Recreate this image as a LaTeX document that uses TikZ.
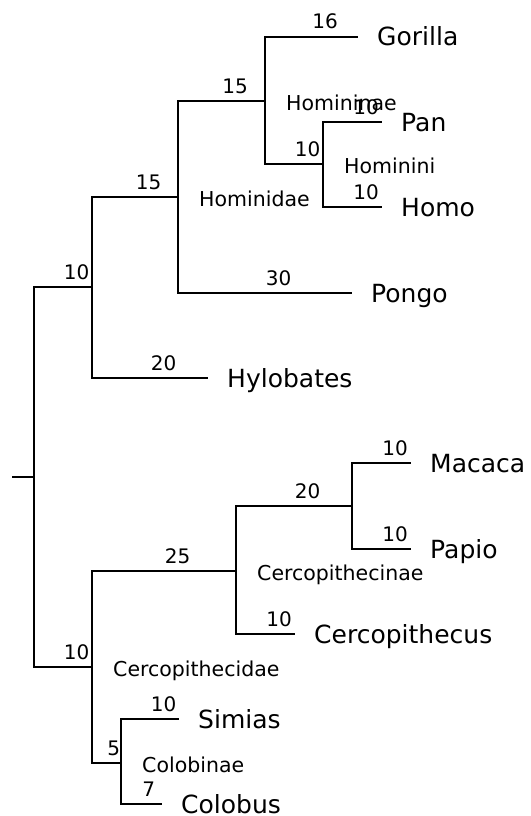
\documentclass[tikz,border=0pt]{standalone}
\usepackage{fontspec}
\setmainfont{DejaVu Sans}
\usepackage{xcolor}
\usepackage{tikz}
\definecolor{TreeInk}{HTML}{000000}

\begin{document}
\begin{tikzpicture}[
    x=1pt,y=-1pt,
    branch/.style={line width=1.7pt,color=TreeInk},
    leaf/.style={anchor=base west,inner sep=0pt,xshift=19pt,yshift=-9pt,
      text=TreeInk,font=\fontsize{25}{30}\selectfont},
    clade/.style={anchor=base west,inner sep=0pt,xshift=21pt,yshift=-9pt,
      text=TreeInk,font=\fontsize{20.5}{24}\selectfont},
    blen/.style={pos=0.75,anchor=base west,inner sep=0pt,yshift=8pt,
      text=TreeInk,font=\fontsize{20}{24}\selectfont}
  ]
    \useasboundingbox (0,0) rectangle (530,816);
    \coordinate (stub) at (12,477);
    \coordinate (root) at (34,477);
    \coordinate (hominoidea) at (92,287);
    \coordinate (hominidae) at (178,197);
    \coordinate (homininae) at (265,101);
    \coordinate (hominini) at (323,164);
    \coordinate (cercopithecidae) at (92,667);
    \coordinate (cercopithecinae) at (236,571);
    \coordinate (papionini) at (352,506);
    \coordinate (colobinae) at (121,763);
    \coordinate (gorilla) at (358,37);
    \coordinate (pan) at (382,122);
    \coordinate (homo) at (382,207);
    \coordinate (pongo) at (352,293);
    \coordinate (hylobates) at (208,378);
    \coordinate (macaca) at (411,463);
    \coordinate (papio) at (411,549);
    \coordinate (cercopithecus) at (295,634);
    \coordinate (simias) at (179,719);
    \coordinate (colobus) at (162,804);

    \draw[branch] (stub) -- (root);
    \draw[branch] (root) |- (hominoidea) node[blen] (lenHominoidea) {10};
    \draw[branch] (root) |- (cercopithecidae) node[blen] (lenCercopithecidae) {10};
    \draw[branch] (hominoidea) |- (hominidae) node[blen] (lenHominidae) {15};
    \draw[branch] (hominoidea) |- (hylobates) node[blen] (lenHylobates) {20};
    \draw[branch] (hominidae) |- (homininae) node[blen] (lenHomininae) {15};
    \draw[branch] (hominidae) |- (pongo) node[blen] (lenPongo) {30};
    \draw[branch] (homininae) |- (gorilla) node[blen] (lenGorilla) {16};
    \draw[branch] (homininae) |- (hominini) node[blen] (lenHominini) {10};
    \draw[branch] (hominini) |- (pan) node[blen] (lenPan) {10};
    \draw[branch] (hominini) |- (homo) node[blen] (lenHomo) {10};
    \draw[branch] (cercopithecidae) |- (cercopithecinae) node[blen] (lenCercopithecinae) {25};
    \draw[branch] (cercopithecidae) |- (colobinae) node[blen] (lenColobinae) {5};
    \draw[branch] (cercopithecinae) |- (papionini) node[blen] (lenPapionini) {20};
    \draw[branch] (cercopithecinae) |- (cercopithecus) node[blen] (lenCercopithecus) {10};
    \draw[branch] (papionini) |- (macaca) node[blen] (lenMacaca) {10};
    \draw[branch] (papionini) |- (papio) node[blen] (lenPapio) {10};
    \draw[branch] (colobinae) |- (simias) node[blen] (lenSimias) {10};
    \draw[branch] (colobinae) |- (colobus) node[blen] (lenColobus) {7};

    \node[clade] (hominidaeTxt) at (hominidae) {Hominidae};
    \node[clade] (homininaeTxt) at (homininae) {Homininae};
    \node[clade] (homininiTxt) at (hominini) {Hominini};
    \node[clade] (cercopithecidaeTxt) at (cercopithecidae) {Cercopithecidae};
    \node[clade] (cercopithecinaeTxt) at (cercopithecinae) {Cercopithecinae};
    \node[clade] (colobinaeTxt) at (colobinae) {Colobinae};

    \node[leaf] (gorillaTxt) at (gorilla) {Gorilla};
    \node[leaf] (panTxt) at (pan) {Pan};
    \node[leaf] (homoTxt) at (homo) {Homo};
    \node[leaf] (pongoTxt) at (pongo) {Pongo};
    \node[leaf] (hylobatesTxt) at (hylobates) {Hylobates};
    \node[leaf] (macacaTxt) at (macaca) {Macaca};
    \node[leaf] (papioTxt) at (papio) {Papio};
    \node[leaf] (cercopithecusTxt) at (cercopithecus) {Cercopithecus};
    \node[leaf] (simiasTxt) at (simias) {Simias};
    \node[leaf] (colobusTxt) at (colobus) {Colobus};
  \end{tikzpicture}
\end{document}
